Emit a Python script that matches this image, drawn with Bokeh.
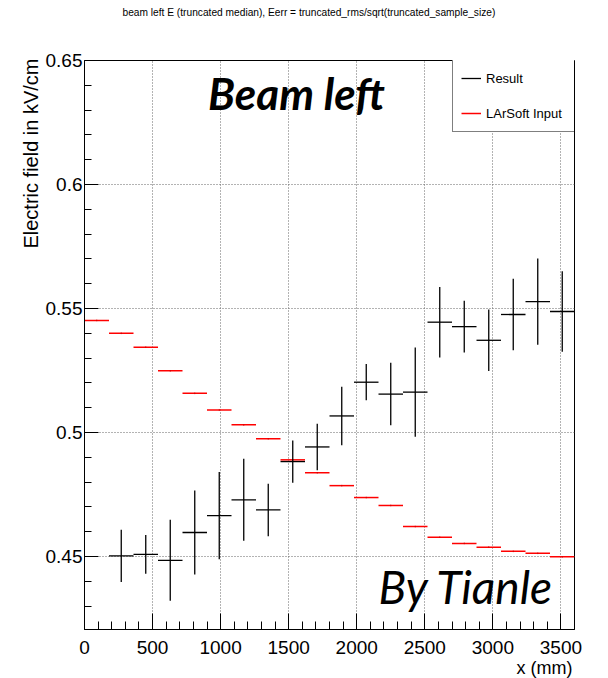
from bokeh.plotting import figure
from bokeh.models import (Range1d, Label, Legend, LegendItem, FixedTicker,
                          CustomJSTickFormatter, ColumnDataSource, Title)
from bokeh.embed import file_html
from bokeh.resources import INLINE

# ---------------- data ----------------
bin_centers = [90, 270, 450, 630, 810, 990, 1170, 1350, 1530, 1710,
               1890, 2070, 2250, 2430, 2610, 2790, 2970, 3150, 3330, 3510]
bin_half_width = 90

larsoft_E = [0.5452, 0.5400, 0.5344, 0.5249, 0.5158, 0.5091, 0.5031, 0.4975,
             0.4890, 0.4838, 0.4786, 0.4738, 0.4706, 0.4621, 0.4578, 0.4553,
             0.4538, 0.4521, 0.4513, 0.4499]
larsoft_err = [0.0003, 0.0003, 0.0003, 0.0003, 0.0003, 0.0003, 0.0003, 0.0003,
               0.0003, 0.0003, 0.0003, 0.0003, 0.0003, 0.0003, 0.0003, 0.0003,
               0.0003, 0.0003, 0.0003, 0.0003]

result_centers = [270, 450, 630, 810, 990, 1170, 1350, 1530, 1710,
                  1890, 2070, 2250, 2430, 2610, 2790, 2970, 3150, 3330, 3510]
result_E = [0.4503, 0.4509, 0.4485, 0.4597, 0.4665, 0.4729, 0.4688, 0.4883,
            0.4942, 0.5067, 0.5203, 0.5155, 0.5163, 0.5445, 0.5427, 0.5372,
            0.5476, 0.5528, 0.5488]
result_err = [0.0105, 0.0078, 0.0163, 0.0169, 0.0176, 0.0165, 0.0106, 0.0085,
              0.0094, 0.0118, 0.0073, 0.0126, 0.0180, 0.0142, 0.0104, 0.0124,
              0.0144, 0.0174, 0.0162]

x_major_ticks = [0, 500, 1000, 1500, 2000, 2500, 3000, 3500]
x_minor_ticks = [100, 200, 300, 400, 600, 700, 800, 900, 1100, 1200, 1300, 1400,
                 1600, 1700, 1800, 1900, 2100, 2200, 2300, 2400, 2600, 2700,
                 2800, 2900, 3100, 3200, 3300, 3400, 3600]
y_major_ticks = [0.45, 0.5, 0.55, 0.6, 0.65]
y_minor_ticks = [0.43, 0.44, 0.46, 0.47, 0.48, 0.49, 0.51, 0.52, 0.53, 0.54,
                 0.56, 0.57, 0.58, 0.59, 0.61, 0.62, 0.63, 0.64]

title_text = "beam left E (truncated median), Eerr = truncated_rms/sqrt(truncated_sample_size)"
y_label_text = "Electric field in kV/cm"
x_label_text = "x (mm)"
legend_labels = ["Result", "LArSoft Input"]

FONT = "Liberation Sans"

# ---------------- figure ----------------
p = figure(width=600, height=678, output_backend="svg", toolbar_location=None,
           x_range=Range1d(0, 3600), y_range=Range1d(0.4206, 0.65),
           min_border_left=84, min_border_right=26, min_border_top=60,
           min_border_bottom=42)
p.title.visible = False
p.outline_line_color = "black"
p.outline_line_width = 1
p.background_fill_color = "white"
p.border_fill_color = "white"

fmt = CustomJSTickFormatter(code="return Number(tick.toFixed(4)).toString();")

p.xaxis.ticker = FixedTicker(ticks=x_major_ticks, minor_ticks=x_minor_ticks)
p.yaxis.ticker = FixedTicker(ticks=y_major_ticks, minor_ticks=y_minor_ticks)
p.xaxis.formatter = fmt
p.yaxis.formatter = fmt

for ax in (p.xaxis, p.yaxis):
    ax.axis_line_color = "black"
    ax.axis_line_width = 1
    ax.major_tick_line_color = "black"
    ax.minor_tick_line_color = "black"
    ax.major_tick_out = 0
    ax.minor_tick_out = 0
    ax.major_label_text_font = FONT
    ax.major_label_text_font_size = "19px"
    ax.major_label_text_color = "black"

p.xaxis.major_tick_in = 16
p.xaxis.minor_tick_in = 8
p.yaxis.major_tick_in = 14
p.yaxis.minor_tick_in = 7
p.xaxis.major_label_standoff = 11
p.yaxis.major_label_standoff = 2

for g in (p.xgrid, p.ygrid):
    g.grid_line_color = "#666666"
    g.grid_line_dash = "1 2"
    g.grid_line_width = 1

# ---------------- marks ----------------
red_src = ColumnDataSource(dict(
    xl=[c - bin_half_width for c in bin_centers],
    xr=[c + bin_half_width for c in bin_centers],
    xc=bin_centers,
    y=larsoft_E,
    ylo=[v - e for v, e in zip(larsoft_E, larsoft_err)],
    yhi=[v + e for v, e in zip(larsoft_E, larsoft_err)],
))
blk_src = ColumnDataSource(dict(
    xl=[c - bin_half_width for c in result_centers],
    xr=[c + bin_half_width for c in result_centers],
    xc=result_centers,
    y=result_E,
    ylo=[v - e for v, e in zip(result_E, result_err)],
    yhi=[v + e for v, e in zip(result_E, result_err)],
))

red_h = p.segment(x0="xl", x1="xr", y0="y", y1="y", source=red_src,
                  line_color="#ff0000", line_width=1.5)
p.segment(x0="xc", x1="xc", y0="ylo", y1="yhi", source=red_src,
          line_color="#cc0000", line_width=1)

blk_h = p.segment(x0="xl", x1="xr", y0="y", y1="y", source=blk_src,
                  line_color="black", line_width=1.3)
p.segment(x0="xc", x1="xc", y0="ylo", y1="yhi", source=blk_src,
          line_color="black", line_width=1.3)

# ---------------- legend ----------------
legend = Legend(items=[LegendItem(label=legend_labels[0], renderers=[blk_h]),
                       LegendItem(label=legend_labels[1], renderers=[red_h])],
                location=(368, 497), orientation="vertical",
                border_line_color="black", border_line_width=1,
                background_fill_color="white", background_fill_alpha=1,
                padding=8, spacing=15, glyph_width=20, glyph_height=20,
                label_height=20, label_width=81, label_standoff=5,
                label_text_font=FONT, label_text_font_size="13px",
                label_text_color="black", margin=0)
p.add_layout(legend, "center")

# ---------------- texts ----------------
# empty spacer between the frame and the title
p.add_layout(Title(text=" ", text_font=FONT, text_font_size="10px",
                   standoff=28), "above")
p.add_layout(Title(text=title_text, text_font=FONT, text_font_size="10.2px",
                   text_font_style="normal", text_color="black",
                   align="left", offset=38, vertical_align="top",
                   standoff=0), "above")
p.add_layout(Title(text=y_label_text, text_font=FONT, text_font_size="20px",
                   text_font_style="normal", text_color="black",
                   align="right", offset=-2, vertical_align="middle",
                   standoff=0), "left")
p.add_layout(Title(text=x_label_text, text_font=FONT, text_font_size="18px",
                   text_font_style="normal", text_color="black",
                   align="right", offset=2, vertical_align="middle",
                   standoff=0), "below")

p.add_layout(Label(x=212, y=537, x_units="screen", y_units="screen",
                   text="Beam left", text_font="Lato", text_font_size="44px",
                   text_font_style="bold italic", text_align="center",
                   text_baseline="alphabetic", text_color="black"))
p.add_layout(Label(x=382, y=43, x_units="screen", y_units="screen",
                   text="By Tianle", text_font="Lato", text_font_size="46px",
                   text_font_style="italic", text_align="center",
                   text_baseline="alphabetic", text_color="black"))

open("out.html", "w").write(file_html(p, INLINE))
